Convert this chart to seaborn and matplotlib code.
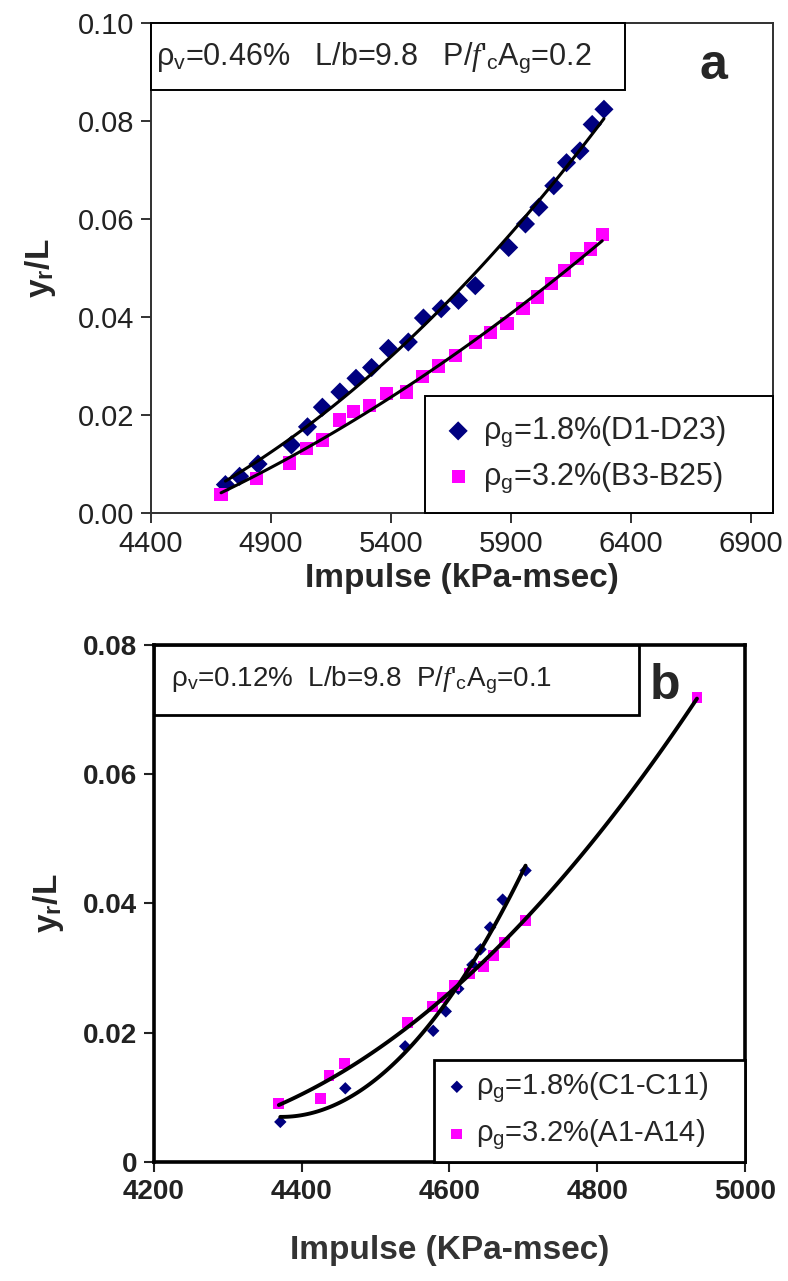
import numpy as np
import pandas as pd
import seaborn as sns
import matplotlib.pyplot as plt
from matplotlib.patches import Rectangle
from matplotlib.ticker import FuncFormatter

# panel a: rho_v=0.46%
d_imp = [4710, 4769, 4846, 4985, 5052, 5114, 5187, 5254, 5319, 5389, 5472, 5535,
         5609, 5681, 5751, 5890, 5960, 6016, 6078, 6131, 6187, 6238, 6287]
d_yl = [0.0058, 0.0075, 0.0100, 0.0139, 0.0176, 0.0216, 0.0247, 0.0275, 0.0297, 0.0336,
        0.0349, 0.0398, 0.0417, 0.0434, 0.0464, 0.0542, 0.0590, 0.0624, 0.0668, 0.0715,
        0.0739, 0.0793, 0.0824]
b_imp = [4692, 4839, 4978, 5048, 5114, 5184, 5243, 5312, 5382, 5465, 5532, 5598,
         5667, 5751, 5814, 5883, 5950, 6009, 6067, 6123, 6175, 6231, 6280]
b_yl = [0.0037, 0.0071, 0.0102, 0.0132, 0.0149, 0.0190, 0.0207, 0.0220, 0.0244, 0.0247,
        0.0278, 0.0300, 0.0322, 0.0349, 0.0369, 0.0386, 0.0417, 0.0441, 0.0468, 0.0495,
        0.0519, 0.0539, 0.0569]

# panel b: rho_v=0.12%
c_imp = [4371, 4459, 4540, 4578, 4595, 4612, 4631, 4642, 4655, 4672, 4703]
c_yl = [0.0062, 0.0114, 0.0179, 0.0203, 0.0233, 0.0268, 0.0305, 0.0329, 0.0363, 0.0406, 0.0451]
a_imp = [4369, 4425, 4437, 4458, 4543, 4577, 4590, 4607, 4627, 4646, 4660, 4674, 4703, 4935]
a_yl = [0.0090, 0.0098, 0.0134, 0.0152, 0.0216, 0.0241, 0.0255, 0.0273, 0.0292, 0.0302,
        0.0320, 0.0340, 0.0374, 0.0719]

lbl_a = [r'ρ$_{\mathrm{g}}$=1.8%(D1-D23)', r'ρ$_{\mathrm{g}}$=3.2%(B3-B25)']
lbl_b = [r'ρ$_{\mathrm{g}}$=1.8%(C1-C11)', r'ρ$_{\mathrm{g}}$=3.2%(A1-A14)']
txt_a = r"ρ$_{\mathrm{v}}$=0.46%   L/b=9.8   P/$\mathit{f}$'$_{\mathrm{c}}$A$_{\mathrm{g}}$=0.2"
txt_b = r"ρ$_{\mathrm{v}}$=0.12%  L/b=9.8  P/$\mathit{f}$'$_{\mathrm{c}}$A$_{\mathrm{g}}$=0.1"

NAVY = '#000080'
MAG = '#ff00ff'

sns.set_style('ticks')
plt.rcParams['font.family'] = ['Liberation Sans', 'DejaVu Sans']
plt.rcParams['mathtext.fontset'] = 'custom'
plt.rcParams['mathtext.rm'] = 'Liberation Sans'
plt.rcParams['mathtext.it'] = 'Liberation Serif:italic'
plt.rcParams['mathtext.bf'] = 'Liberation Sans:bold'

fig = plt.figure(figsize=(7.88, 12.81), dpi=100)
ax1 = fig.add_axes([0.1916, 0.5995, 0.789, 0.3825])
ax2 = fig.add_axes([0.1954, 0.0929, 0.75, 0.4036])


def panel(ax, x1, y1, x2, y2, s1, s2, lw):
    sns.scatterplot(x=x1, y=y1, ax=ax, marker='D', s=s1, color=NAVY, edgecolor='none', zorder=3)
    sns.scatterplot(x=x2, y=y2, ax=ax, marker='s', s=s2, color=MAG, edgecolor='none', zorder=3)
    sns.regplot(x=np.array(x1), y=np.array(y1), ax=ax, order=2, scatter=False, ci=None,
                truncate=True, line_kws=dict(color='black', lw=lw, zorder=4))
    sns.regplot(x=np.array(x2), y=np.array(y2), ax=ax, order=2, scatter=False, ci=None,
                truncate=True, line_kws=dict(color='black', lw=lw, zorder=4))
    return ax.collections[0], ax.collections[1]


# ---- panel a
ha = panel(ax1, d_imp, d_yl, b_imp, b_yl, 95, 90, 2.2)
ax1.set_xlim(4400, 6990)
ax1.set_ylim(0, 0.10)
ax1.set_xticks(np.arange(4400, 6901, 500))
ax1.set_yticks(np.arange(0, 0.1001, 0.02))
ax1.yaxis.set_major_formatter(FuncFormatter(lambda v, p: f'{v:.2f}'))
ax1.tick_params(labelsize=21, length=7, width=1.3, direction='out', colors='#222222', pad=5)
for sp in ax1.spines.values():
    sp.set_visible(True)
    sp.set_linewidth(1.4)
    sp.set_color('#303030')
ax1.set_xlabel('Impulse (kPa-msec)', fontsize=24, fontweight='bold', labelpad=4)
ax1.set_ylabel(r'y$_{\mathbf{r}}$/L', fontsize=24, fontweight='bold', labelpad=14)
ax1.add_patch(Rectangle((0, 0.863), 0.762, 0.137, transform=ax1.transAxes, fill=True,
                        facecolor='white', edgecolor='black', lw=1.4, zorder=5, clip_on=False))
ax1.text(0.008, 0.93, txt_a, transform=ax1.transAxes, ha='left', va='center',
         fontsize=22, zorder=6)
ax1.text(0.905, 0.912, 'a', transform=ax1.transAxes, ha='center', va='center',
         fontsize=36, fontweight='bold')
leg = ax1.legend(ha, lbl_a, loc='lower left', bbox_to_anchor=(0.44, 0.0, 0.56, 0.235),
                 mode='expand', borderaxespad=0, fontsize=22, frameon=True, fancybox=False,
                 edgecolor='black', framealpha=1, handletextpad=0.3, labelspacing=0.35,
                 borderpad=0.6, handlelength=1.0)
leg.get_frame().set_linewidth(1.4)

# ---- panel b
hb = panel(ax2, c_imp, c_yl, a_imp, a_yl, 40, 60, 2.8)
ax2.set_xlim(4200, 5000)
ax2.set_ylim(0, 0.08)
ax2.set_xticks(np.arange(4200, 5001, 200))
ax2.set_yticks(np.arange(0, 0.0801, 0.02))
ax2.yaxis.set_major_formatter(FuncFormatter(lambda v, p: '0' if v == 0 else f'{v:.2f}'))
ax2.tick_params(labelsize=20, length=7, width=1.5, direction='out', colors='#222222', pad=5)
for t in ax2.get_xticklabels() + ax2.get_yticklabels():
    t.set_fontweight('bold')
for sp in ax2.spines.values():
    sp.set_visible(True)
    sp.set_linewidth(2.6)
    sp.set_color('black')
ax2.set_xlabel('Impulse (KPa-msec)', fontsize=24, fontweight='bold', labelpad=22, color='#333333')
ax2.set_ylabel(r'y$_{\mathbf{r}}$/L', fontsize=24, fontweight='bold', labelpad=12)
ax2.add_patch(Rectangle((0, 0.865), 0.82, 0.135, transform=ax2.transAxes, fill=True,
                        facecolor='white', edgecolor='black', lw=2.0, zorder=5, clip_on=False))
ax2.text(0.028, 0.932, txt_b, transform=ax2.transAxes, ha='left', va='center',
         fontsize=20, zorder=6, color='#222222')
ax2.text(0.865, 0.92, 'b', transform=ax2.transAxes, ha='center', va='center',
         fontsize=36, fontweight='bold')
leg2 = ax2.legend(hb, lbl_b, loc='lower left', bbox_to_anchor=(0.473, 0.0, 0.527, 0.206),
                  mode='expand', borderaxespad=0, fontsize=21, frameon=True, fancybox=False,
                  edgecolor='black', framealpha=1, handletextpad=0.2, labelspacing=0.45,
                  borderpad=0.35, handlelength=0.9)
leg2.get_frame().set_linewidth(2.0)

plt.savefig('out.png', dpi=100)
plt.close()
